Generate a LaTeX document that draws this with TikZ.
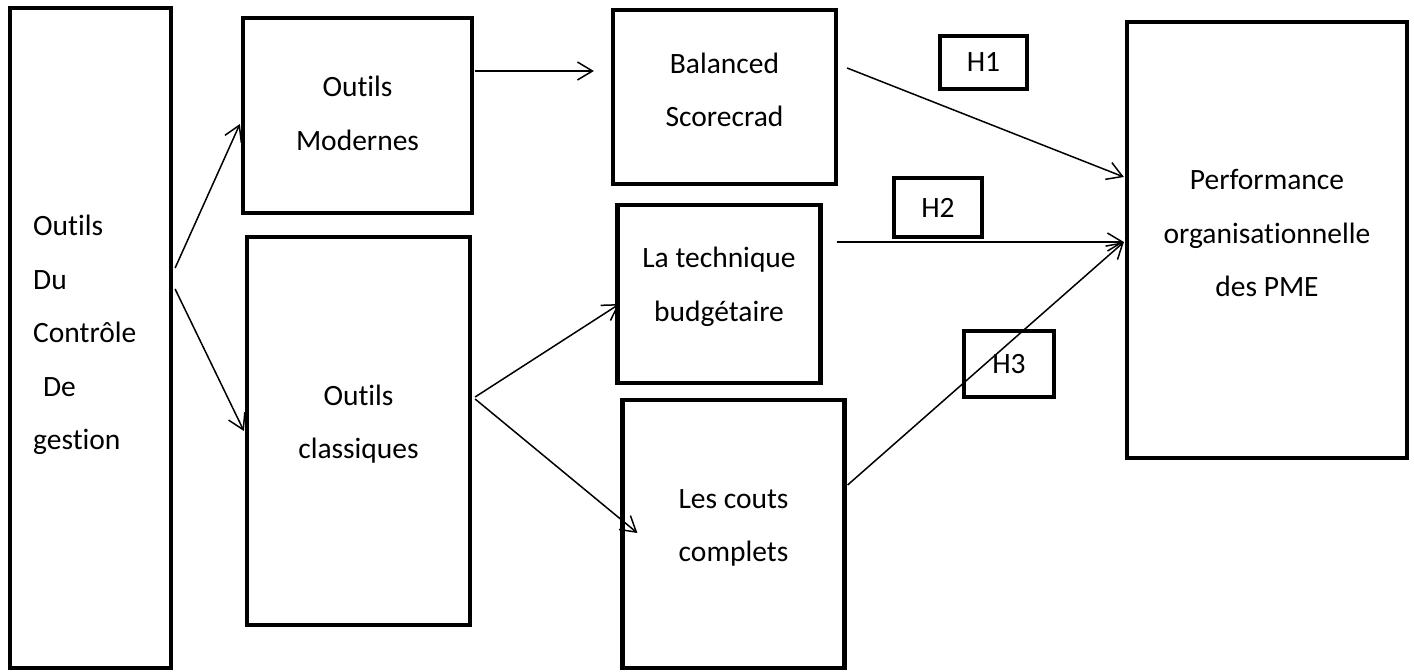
\documentclass[tikz,border=0pt]{standalone}
\usepackage{fontspec}
\setmainfont{Carlito}[Ligatures=NoCommon]
\usetikzlibrary{arrows.meta,calc}
\begin{document}
\begin{tikzpicture}[x=1pt,y=-1pt,
  box/.style={draw=black,line width=4.2pt,rectangle,inner sep=0pt},
  txt/.style={inner sep=0pt,align=center,font=\fontsize{29.5}{53.5}\selectfont},
  hbox/.style={draw=black,line width=4.2pt,rectangle,inner sep=0pt,
    font=\fontsize{29.5}{34}\selectfont},
  conn/.style={line width=1.5pt,-{Straight Barb[length=15pt,width=18pt,line width=1.5pt]}}]
\useasboundingbox (0,0) rectangle (1414,672);
\fill[white] (0,0) rectangle (1414,672);
\node[box,minimum width=161pt,minimum height=660pt] (A) at (90.5,338) {};
\node[box,minimum width=229pt,minimum height=195pt] (OM) at (357.5,115.5) {};
\node[box,minimum width=223pt,minimum height=388pt] (OC) at (358.5,431) {};
\node[box,minimum width=223pt,minimum height=174pt] (BS) at (724.5,97) {};
\node[box,minimum width=203pt,minimum height=178pt] (TB) at (719,294) {};
\node[box,minimum width=222pt,minimum height=268pt] (CC) at (733.5,534) {};
\node[box,minimum width=280pt,minimum height=436pt] (PE) at (1267,240) {};
\node[txt,text width=120pt,align=left,anchor=west] (tA) at (33,335) {Outils\\Du\\Contrôle\\\ De\\gestion};
\node[txt] (tOM) at ($(OM.center)+(0,-2)$) {Outils\\Modernes};
\node[txt] (tOC) at ($(OC.center)+(0,-7)$) {Outils\\classiques};
\node[txt] (tBS) at ($(BS.center)+(0,-7)$) {Balanced\\Scorecrad};
\node[txt] (tTB) at ($(TB.center)+(0,-7)$) {La technique\\budgétaire};
\node[txt] (tCC) at ($(CC.center)+(0,-6)$) {Les couts\\complets};
\node[txt] (tPE) at ($(PE.center)+(0,-7)$) {Performance\\organisationnelle\\des PME};
\node[hbox,minimum width=87pt,minimum height=53pt] (H1) at (983.5,62.5) {H1};
\node[hbox,minimum width=88pt,minimum height=59pt] (H2) at (938,207.5) {H2};
\node[hbox,minimum width=90pt,minimum height=66pt] (H3) at (1009,364) {H3};
\draw[conn] ($(A.east)+(2,-70)$) -- ($(OM.west)+(-1,8.5)$);
\draw[conn] ($(A.east)+(2,-49)$) -- ($(OC.west)+(-1,0)$);
\draw[conn] ($(OM.east)+(1,-44.5)$) -- ($(BS.west)+(-17,-26)$);
\draw[conn] ($(OC.east)+(3,-34)$) -- ($(TB.west)+(4,10)$);
\draw[conn] ($(OC.east)+(3,-32)$) -- ($(CC.west)+(17,-1)$);
\draw[conn] ($(BS.east)+(9,-29)$) -- ($(PE.west)+(-1,-63)$);
\draw[conn] ($(TB.east)+(14,-52)$) -- ($(PE.west)+(-1,2)$);
\draw[conn] ($(CC.east)+(1,-49)$) -- ($(PE.west)+(-1,2)$);
\end{tikzpicture}
\end{document}
